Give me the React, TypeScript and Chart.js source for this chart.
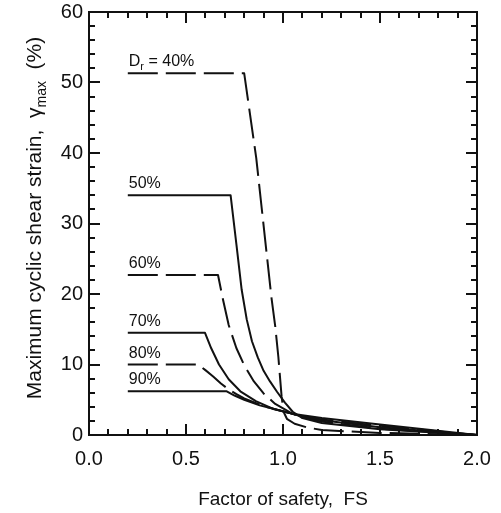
import React, { useEffect, useRef } from "react";
import { Chart, registerables } from "chart.js";

Chart.register(...registerables);

// ---- Data ----
const xTickValues = [0, 0.5, 1.0, 1.5, 2.0];
const yTickValues = [0, 10, 20, 30, 40, 50, 60];

const fs40 = [0.2, 0.80, 0.862, 0.94, 0.96, 0.976, 0.993, 1.003, 1.02, 1.06, 1.12, 1.2, 1.5, 2.0];
const strain40 = [51.3, 51.3, 39.3, 19.6, 15.4, 11.1, 5.4, 3.3, 2.3, 1.6, 1.1, 0.7, 0.3, 0];

const fs50 = [0.2, 0.73, 0.76, 0.787, 0.813, 0.84, 0.87, 0.90, 0.933, 0.97, 1.01, 1.05, 1.1, 1.2, 1.5, 2.0];
const strain50 = [34.0, 34.0, 27.0, 20.6, 16.4, 13.3, 11.0, 9.1, 7.6, 6.1, 4.6, 3.3, 2.4, 1.7, 0.8, 0];

const fs60 = [0.2, 0.665, 0.69, 0.72, 0.76, 0.80, 0.85, 0.90, 0.96, 1.05, 1.1, 1.2, 1.5, 2.0];
const strain60 = [22.7, 22.7, 19.3, 15.6, 12.3, 9.9, 7.6, 5.9, 4.4, 3.0, 2.5, 1.9, 0.9, 0];

const fs70 = [0.2, 0.598, 0.63, 0.67, 0.72, 0.78, 0.86, 0.95, 1.05, 1.1, 1.2, 1.5, 2.0];
const strain70 = [14.5, 14.5, 12.3, 10.0, 7.9, 6.2, 4.8, 3.7, 3.0, 2.6, 2.1, 1.1, 0];

const fs80 = [0.2, 0.563, 0.60, 0.64, 0.68, 0.718, 0.76, 0.80, 0.90, 1.05, 1.1, 1.2, 1.5, 2.0];
const strain80 = [10.0, 10.0, 9.2, 8.3, 7.3, 6.5, 5.8, 5.2, 4.1, 3.0, 2.7, 2.2, 1.3, 0];

const fs90 = [0.2, 0.71, 0.75, 0.80, 0.88, 0.98, 1.05, 1.1, 1.2, 1.5, 2.0];
const strain90 = [6.2, 6.2, 5.6, 5.0, 4.2, 3.5, 3.0, 2.8, 2.4, 1.5, 0];

const densityLabels = ["40%", "50%", "60%", "70%", "80%", "90%"];
const dashedSeries = [true, false, true, false, true, false];

const seriesFs = [fs40, fs50, fs60, fs70, fs80, fs90];
const seriesStrain = [strain40, strain50, strain60, strain70, strain80, strain90];

const FONT = "'Liberation Sans', Arial, Helvetica, sans-serif";

const framePlugin = {
  id: "frameTicks",
  afterDatasetsDraw(chart: any) {
    const { ctx, chartArea, scales } = chart;
    const xs = scales.x;
    const ys = scales.y;
    ctx.save();
    ctx.strokeStyle = "#111";
    ctx.lineWidth = 2;
    ctx.strokeRect(chartArea.left, chartArea.top, chartArea.right - chartArea.left, chartArea.bottom - chartArea.top);
    ctx.lineWidth = 2;
    ctx.beginPath();
    for (let i = 1; i < 20; i++) {
      const major = i % 5 === 0;
      const len = major ? 11 : 6;
      const px = Math.round(xs.getPixelForValue(i / 10));
      ctx.moveTo(px, chartArea.bottom);
      ctx.lineTo(px, chartArea.bottom - len);
      ctx.moveTo(px, chartArea.top);
      ctx.lineTo(px, chartArea.top + len);
    }
    for (let j = 1; j < 30; j++) {
      const major = j % 5 === 0;
      const len = major ? 11 : 6;
      const py = Math.round(ys.getPixelForValue(j * 2));
      ctx.moveTo(chartArea.left, py);
      ctx.lineTo(chartArea.left + len, py);
      ctx.moveTo(chartArea.right, py);
      ctx.lineTo(chartArea.right - len, py);
    }
    ctx.stroke();

    // Curve labels
    ctx.fillStyle = "#111";
    ctx.textBaseline = "alphabetic";
    ctx.textAlign = "left";
    for (let k = 0; k < densityLabels.length; k++) {
      const px = xs.getPixelForValue(seriesFs[k][0]) + 1;
      const py = ys.getPixelForValue(seriesStrain[k][0]) - 7;
      if (k === 0) {
        ctx.font = `16px ${FONT}`;
        ctx.fillText("D", px, py);
        const wD = ctx.measureText("D").width;
        ctx.font = `11px ${FONT}`;
        ctx.fillText("r", px + wD, py + 4);
        const wr = ctx.measureText("r").width;
        ctx.font = `16px ${FONT}`;
        ctx.fillText(" = " + densityLabels[k], px + wD + wr, py);
      } else {
        ctx.font = `16px ${FONT}`;
        ctx.fillText(densityLabels[k], px, py);
      }
    }

    // Axis titles
    const cx = (chartArea.left + chartArea.right) / 2;
    ctx.font = `19px ${FONT}`;
    ctx.textAlign = "center";
    ctx.fillText("Factor of safety,  FS", cx, 505);

    const cy = 218;
    ctx.translate(41, cy);
    ctx.rotate(-Math.PI / 2);
    const p1 = "Maximum cyclic shear strain,  \u03b3";
    const p2 = "max";
    const p3 = "  (%)";
    ctx.font = `21px ${FONT}`;
    const w1 = ctx.measureText(p1).width;
    const w3 = ctx.measureText(p3).width;
    ctx.font = `14px ${FONT}`;
    const w2 = ctx.measureText(p2).width;
    const total = w1 + w2 + w3;
    let x0 = -total / 2;
    ctx.textAlign = "left";
    ctx.font = `21px ${FONT}`;
    ctx.fillText(p1, x0, 0);
    x0 += w1;
    ctx.font = `14px ${FONT}`;
    ctx.fillText(p2, x0, 5);
    x0 += w2;
    ctx.font = `21px ${FONT}`;
    ctx.fillText(p3, x0, 0);
    ctx.restore();
  },
};

export default function App() {
  const canvasRef = useRef<HTMLCanvasElement | null>(null);

  useEffect(() => {
    const canvas = canvasRef.current;
    if (!canvas) return;
    const datasets = densityLabels.map((lab, k) => ({
      label: lab,
      data: seriesFs[k].map((x, i) => ({ x, y: seriesStrain[k][i] })),
      borderColor: "#111",
      borderWidth: 2,
      borderDash: dashedSeries[k] ? [30, 8] : [],
      borderJoinStyle: "round" as const,
      pointRadius: 0,
      fill: false,
      tension: 0,
    }));
    const chart = new Chart(canvas, {
      type: "line",
      data: { datasets },
      plugins: [framePlugin],
      options: {
        animation: false,
        responsive: false,
        maintainAspectRatio: false,
        layout: { padding: { top: 12, right: 24, left: 0, bottom: 0 } },
        plugins: { legend: { display: false }, tooltip: { enabled: false } },
        scales: {
          x: {
            type: "linear",
            min: 0,
            max: 2,
            afterBuildTicks: (scale: any) => {
              scale.ticks = xTickValues.map((v) => ({ value: v }));
            },
            afterFit: (scale: any) => {
              scale.height = 78;
              scale.paddingLeft = 0;
              scale.paddingRight = 0;
            },
            grid: { display: false, drawTicks: false },
            border: { display: false },
            ticks: {
              padding: 12,
              color: "#111",
              font: { family: FONT, size: 20 },
              callback: (v: any) => Number(v).toFixed(1),
              maxRotation: 0,
            },
          },
          y: {
            type: "linear",
            min: 0,
            max: 60,
            afterBuildTicks: (scale: any) => {
              scale.ticks = yTickValues.map((v) => ({ value: v }));
            },
            afterFit: (scale: any) => {
              scale.width = 89;
              scale.paddingTop = 0;
              scale.paddingBottom = 0;
            },
            grid: { display: false, drawTicks: false },
            border: { display: false },
            ticks: {
              padding: 6,
              color: "#111",
              font: { family: FONT, size: 20 },
              callback: (v: any) => String(v),
            },
          },
        },
      },
    });
    return () => chart.destroy();
  }, []);

  return (
    <div style={{ position: "absolute", left: 0, top: 0, width: 501, height: 513, background: "#fff" }}>
      <canvas ref={canvasRef} width={501} height={513} style={{ display: "block", width: 501, height: 513 }} />
    </div>
  );
}
